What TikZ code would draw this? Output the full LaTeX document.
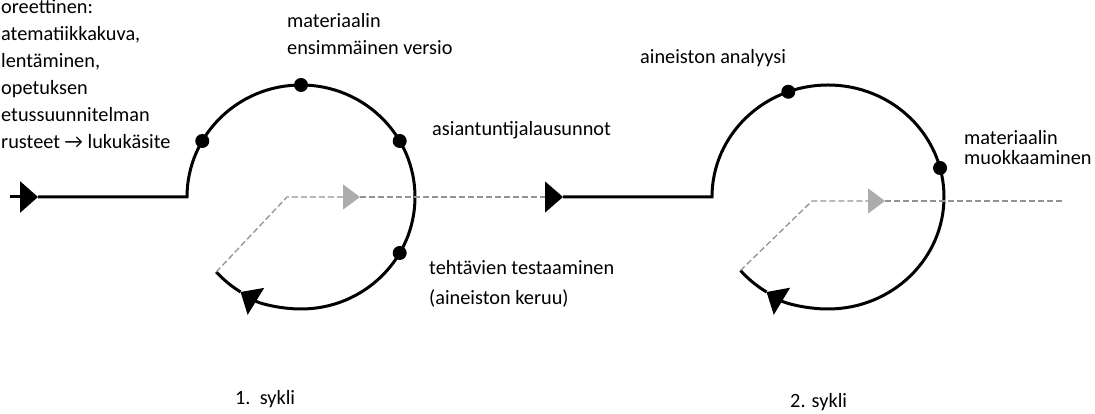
\documentclass[tikz,border=0pt]{standalone}
\usepackage{fontspec}
\setmainfont{Carlito}
\usetikzlibrary{positioning, arrows.meta}

\begin{document}
\begin{tikzpicture}[x=1pt, y=1pt,
    flow/.style={line width=3pt, black},
    back/.style={line width=1.3pt, gray!85, dash pattern=on 6pt off 3pt},
    dot/.style={circle, fill=black, inner sep=0pt, minimum size=14pt},
    lbl/.style={anchor=base west, inner sep=0pt, align=left, font=\fontsize{20.3}{27}\selectfont},
    bigtip/.style={-{Triangle[length=18pt, width=31pt, black]}},
    greytip/.style={-{Triangle[length=17pt, width=25pt, gray!65]}}]
    \useasboundingbox (0,0) rectangle (1095,414);

    % 1. sykli
    \coordinate (in) at (10,217);
    \coordinate (a1) at (38,217);
    \coordinate (J1) at (187,217);
    \coordinate (C1) at (301,217);
    \coordinate (K1) at (287,217);
    \coordinate (g1) at (360,217);
    \draw [flow, bigtip] (in) -- (a1);
    \draw [flow, bigtip] (a1) -- (J1) arc[start angle=180, end angle=-122, x radius=114, y radius=112] coordinate (t1);
    \draw [flow] (t1) arc[start angle=-122, end angle=-138, x radius=114, y radius=112] coordinate (E1);
    \node (m11) [dot] at ([shift={(150:114 and 112)}]C1) {};
    \node (m12) [dot] at ([shift={(90:114 and 112)}]C1) {};
    \node (m13) [dot] at ([shift={(30:114 and 112)}]C1) {};
    \node (m14) [dot] at ([shift={(-30:114 and 112)}]C1) {};

    % 2. sykli
    \coordinate (a2) at (563,217);
    \coordinate (J2) at (712,217);
    \coordinate (C2) at (828,217);
    \coordinate (K2) at (812,213);
    \coordinate (g2) at (885,213);
    \coordinate (out) at (1062,213);
    \draw [back, greytip] (E1) -- (K1) -- (g1);
    \draw [back, bigtip] (g1) -- (a2);
    \draw [flow, bigtip] (a2) -- (J2) arc[start angle=180, end angle=-122, x radius=116, y radius=112] coordinate (t2);
    \draw [flow] (t2) arc[start angle=-122, end angle=-139, x radius=116, y radius=112] coordinate (E2);
    \node (m21) [dot] at ([shift={(110:116 and 112)}]C2) {};
    \node (m22) [dot] at ([shift={(15:116 and 112)}]C2) {};
    \draw [back, greytip] (E2) -- (K2) -- (g2);
    \draw [back] (g2) -- (out);

    % tekstit (base = viimeisen rivin perusviiva)
    \node (teoria) [lbl] at (1,265) {oreettinen:\\atematiikkakuva,\\lentäminen,\\opetuksen\\etussuunnitelman\\rusteet → lukukäsite};
    \node (v1) [lbl] at (287,359) {materiaalin\\ensimmäinen versio};
    \node (v2) [lbl] at (432,278) {asiantuntijalausunnot};
    \node (v3) [lbl, font=\fontsize{20.3}{30}\selectfont] at (429,109) {tehtävien testaaminen\\(aineiston keruu)};
    \node (w1) [lbl] at (640,350) {aineiston analyysi};
    \node (w2) [lbl, font=\fontsize{20.3}{20}\selectfont] at (964,249) {materiaalin\\muokkaaminen};
    \node (s1) [lbl] at (235,9) {1.\ \ sykli};
    \node (s2) [lbl] at (790,6) {2. sykli};
\end{tikzpicture}
\end{document}
